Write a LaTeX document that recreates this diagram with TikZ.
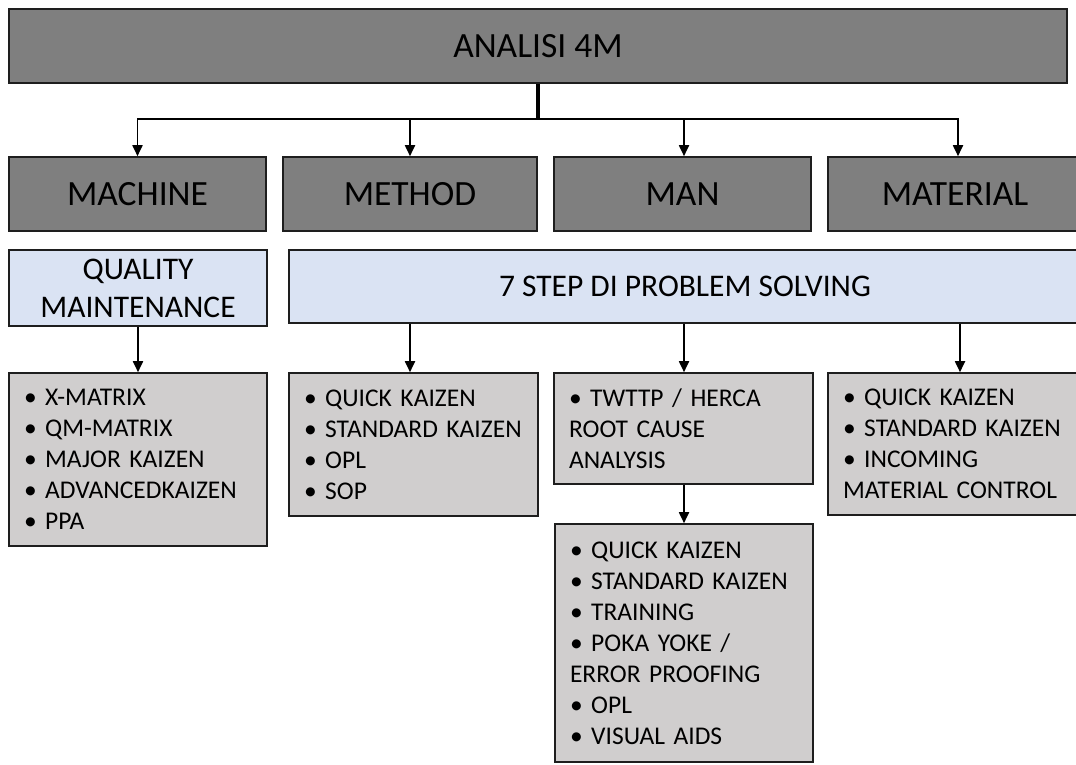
\documentclass[tikz,border=0pt]{standalone}
\usepackage{fontspec}
\setmainfont{Carlito}
\usetikzlibrary{arrows.meta}

\definecolor{headgray}{HTML}{7F7F7F}
\definecolor{paleblue}{HTML}{DAE3F3}
\definecolor{listgray}{HTML}{D0CECE}
\definecolor{edge}{HTML}{1E1E1E}

\tikzset{
  box/.style={draw=edge, line width=1.6pt, inner sep=0pt, text=black, align=center},
  headbox/.style={box, fill=headgray, font=\fontsize{35.5}{42}\selectfont},
  bluebox/.style={box, fill=paleblue, font=\fontsize{31.5}{38}\selectfont},
  listbox/.style={box, fill=listgray, align=left, inner xsep=15pt, inner ysep=0pt,
                  font=\fontsize{25.5}{31}\selectfont},
  stem/.style={line width=3.6pt, draw=black},
  branch/.style={line width=1.8pt, draw=black},
  arr/.style={branch, -{Triangle[length=11pt,width=10pt]}},
}

\begin{document}
\begin{tikzpicture}[x=1pt, y=-1pt]
\useasboundingbox (0,0) rectangle (1076,764);
\clip (0,0) rectangle (1076,764);

% header
\node[headbox, minimum width=1058pt, minimum height=74pt] (top) at (538,46) {ANALISI 4M};

% the four Ms
\node[headbox, minimum width=257pt, minimum height=74pt] (machine)  at (137.5,194) {MACHINE};
\node[headbox, minimum width=254pt, minimum height=74pt] (method)   at (410,194)   {METHOD};
\node[headbox, minimum width=257pt, minimum height=74pt] (man)      at (682.5,194) {MAN};
\node[headbox, minimum width=254pt, minimum height=74pt] (material) at (955,194)   {MATERIAL};

% approach boxes
\node[bluebox, minimum width=258pt, minimum height=76pt] (qm)   at (138,288)   {QUALITY\\MAINTENANCE};
\node[bluebox, minimum width=792pt, minimum height=73pt] (step) at (685,286.5) {7 STEP DI PROBLEM SOLVING};

% tool lists
\node[listbox, text width=228pt, minimum height=173pt] (b1) at (138,459.5)
  {• X-MATRIX\\• QM-MATRIX\\• MAJOR KAIZEN\\• ADVANCEDKAIZEN\\• PPA};
\node[listbox, text width=219pt, minimum height=143pt] (b2) at (413.5,444.5)
  {• QUICK KAIZEN\\• STANDARD KAIZEN\\• OPL\\• SOP};
\node[listbox, text width=229pt, minimum height=111pt] (b3) at (683.5,428.5)
  {• TWTTP / HERCA\\ROOT CAUSE\\ANALYSIS};
\node[listbox, text width=224pt, minimum height=142pt] (b4) at (955,444)
  {• QUICK KAIZEN\\• STANDARD KAIZEN\\• INCOMING\\MATERIAL CONTROL};
\node[listbox, text width=228pt, minimum height=238pt] (b5) at (684,643)
  {• QUICK KAIZEN\\• STANDARD KAIZEN\\• TRAINING\\• POKA YOKE /\\ERROR PROOFING\\• OPL\\• VISUAL AIDS};

% connectors
\coordinate (hub) at (538,119);
\draw[stem] (top.south) -- (hub);
\draw[arr] (hub) -| (machine.north);
\draw[arr] (hub) -| (method.north);
\draw[arr] (hub) -| ([xshift=1.5pt]man.north);
\draw[arr] (hub) -| ([xshift=3pt]material.north);

\draw[arr] (qm.south) -- (b1.north);
\draw[arr] (step.south -| method.north) -- (b2.north -| method.north);
\draw[arr] ([xshift=1.5pt]step.south -| man.north) -- ([xshift=1.5pt]b3.north -| man.north);
\draw[arr] ([xshift=5pt]step.south -| material.north) -- ([xshift=5pt]b4.north -| material.north);
\draw[arr] (b5.north |- b3.south) -- (b5.north);
\end{tikzpicture}
\end{document}
